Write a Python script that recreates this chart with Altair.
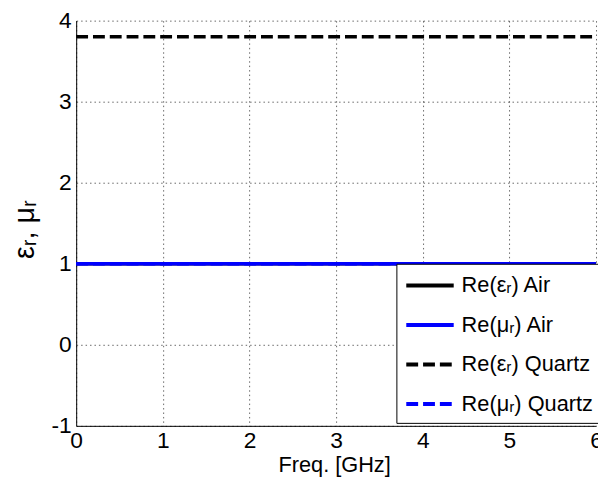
import altair as alt
import pandas as pd

freq = [0, 6]
series_names = ["Re(εᵣ) Air", "Re(μᵣ) Air", "Re(εᵣ) Quartz", "Re(μᵣ) Quartz"]
series_values = [[1, 1], [1, 1], [3.8, 3.8], [1, 1]]
series_colors = ["#000000", "#0000FF", "#000000", "#0000FF"]
series_dash = [[1, 0], [1, 0], [12, 5], [12, 5]]
x_ticks = [0, 1, 2, 3, 4, 5, 6]
y_ticks = [-1, 0, 1, 2, 3, 4]

rows = []
for name, vals in zip(series_names, series_values):
    for f, v in zip(freq, vals):
        rows.append({"freq": f, "value": v, "series": name})
df = pd.DataFrame(rows)

FONT = "Liberation Sans"

color_enc = alt.Color(
    "series:N",
    scale=alt.Scale(domain=series_names, range=series_colors),
    legend=alt.Legend(
        title=None,
        orient="none",
        legendX=324,
        legendY=246,
        symbolType="M-1,0H3",
        symbolSize=576,
        symbolStrokeWidth=4,
        labelFont=FONT,
        labelFontSize=22,
        labelColor="#000000",
        labelOffset=30,
        rowPadding=15,
        padding=8,
        fillColor="#FFFFFF",
        strokeColor="#000000",
        cornerRadius=0,
        labelLimit=300,
    ),
)
dash_enc = alt.StrokeDash(
    "series:N",
    scale=alt.Scale(domain=series_names, range=series_dash),
    legend=alt.Legend(title=None, orient="none", legendX=324, legendY=246),
)

x_enc = alt.X(
    "freq:Q",
    scale=alt.Scale(domain=[0, 6], nice=False, zero=False),
    axis=alt.Axis(
        values=x_ticks,
        title="Freq. [GHz]",
        titleX=261,
        titleY=46,
        titleBaseline="alphabetic",
        labelExpr="datum.value + ''",
        labelFlush=False,
        labelOverlap=False,
    ),
)
y_enc = alt.Y(
    "value:Q",
    scale=alt.Scale(domain=[-1, 4], nice=False, zero=False),
    axis=alt.Axis(
        values=y_ticks,
        title="εᵣ, μᵣ",
        titleFontSize=29,
        titleX=-43,
        titleY=211,
        titleAngle=-90,
        titleAlign="center",
        titleBaseline="alphabetic",
        labelExpr="datum.value + ''",
        labelFlush=False,
        labelOverlap=False,
    ),
)

base = alt.Chart(df)
air_black = base.transform_filter(alt.datum.series == series_names[0]).mark_line(
    strokeWidth=3.5, clip=False
).encode(x=x_enc, y=y_enc, color=color_enc, strokeDash=dash_enc)
others = base.transform_filter(alt.datum.series != series_names[0]).mark_line(
    strokeWidth=3.5, clip=False
).encode(x=x_enc, y=y_enc, color=color_enc, strokeDash=dash_enc)

chart = alt.layer(air_black, others).properties(
    width=526,
    height=410,
    autosize=alt.AutoSizeParams(type="none"),
    padding={"left": 69, "top": 10, "right": 2, "bottom": 51},
).configure_view(stroke=None).configure_axis(
    labelFont=FONT,
    labelFontSize=23,
    labelColor="#000000",
    titleFont=FONT,
    titleFontSize=22,
    titleColor="#000000",
    titleFontWeight="normal",
    domainColor="#000000",
    domainWidth=1,
    gridColor="#000000",
    gridDash=[1.5, 3],
    gridWidth=1,
    gridOpacity=0.6,
    ticks=False,
).configure_axisX(labelPadding=4).configure_axisY(labelPadding=5)

chart.save("out.html", embed_options={"renderer": "svg", "actions": False})
